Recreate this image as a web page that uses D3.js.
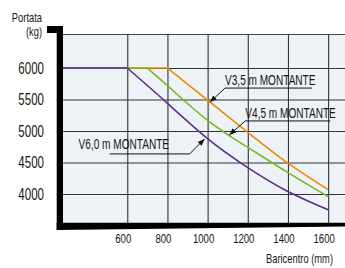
<!DOCTYPE html>
<html>
<head>
<meta charset="utf-8">
<script src="https://cdn.jsdelivr.net/npm/d3@7"></script>
<style>
  body { margin: 0; background: #fff; }
  text { font-family: "Liberation Sans", Arial, sans-serif; fill: #161616; }
</style>
</head>
<body>
<div id="chart"></div>
<script>
var width = 345, height = 268;

// data
var xTicks = [600, 800, 1000, 1200, 1400, 1600]
var yTicks = [4000, 4500, 5000, 5500, 6000]

var xs35 = [280, 800, 1000, 1200, 1400, 1600]
var v35  = [6000, 6000, 5490, 4980, 4490, 4070]

var xs45 = [280, 700, 800, 1000, 1200, 1400, 1600]
var v45  = [6000, 6000, 5720, 5170, 4740, 4340, 3960]

var xs60 = [280, 600, 800, 1000, 1200, 1400, 1600]
var v60  = [6000, 6000, 5440, 4880, 4420, 4040, 3750]

var series = [
    {name: "V3,5 m MONTANTE", xs: xs35, ys: v35, color: "#f28a00", at: 1012},
    {name: "V4,5 m MONTANTE", xs: xs45, ys: v45, color: "#7db71f", at: 1108},
    {name: "V6,0 m MONTANTE", xs: xs60, ys: v60, color: "#5a2e8f", at: 985}
]

var pLeft = 63, pRight = 345, pTop = 34, pBottom = 223;
var squeeze = 0.72;

var svg = d3.select("#chart").append("svg")
    .attr("width", width)
    .attr("height", height)

var xScale = d3.scaleLinear().domain([280, 1684]).range([pLeft, pRight]),
    yScale = d3.scaleLinear().domain([3540, 6540]).range([pBottom, pTop]);

// condensed text: scale horizontally around its anchor point
function label(x, y, str, size, anchor){
    return svg.append("text")
        .attr("transform", "translate(" + x + "," + y + ") scale(" + squeeze + ",1)")
        .attr("text-anchor", anchor || "start")
        .style("font-size", size + "px")
        .text(str)
}

// plot background
svg.append("rect")
    .attr("x", pLeft).attr("y", pTop)
    .attr("width", pRight - pLeft).attr("height", pBottom - pTop)
    .attr("fill", "#edf2f7")

svg.append("line")
    .attr("x1", pLeft).attr("x2", pRight)
    .attr("y1", pTop + 0.5).attr("y2", pTop + 0.5)
    .attr("stroke", "#444")

// gridlines
svg.append("g")
    .attr("class", "grid")
    .attr("transform", "translate(0," + pBottom + ")")
    .call(d3.axisBottom(xScale).tickValues(xTicks).tickSize(-(pBottom - pTop)).tickFormat(""))
svg.append("g")
    .attr("class", "grid")
    .attr("transform", "translate(" + pLeft + ",0)")
    .call(d3.axisLeft(yScale).tickValues(yTicks).tickSize(-(pRight - pLeft)).tickFormat(""))
svg.selectAll(".grid .domain").remove()
svg.selectAll(".grid line").attr("stroke", "#333").attr("stroke-width", 1.1)

// curves: flat part straight, falling part smooth
var flat = d3.line()
    .x(d => xScale(d[0]))
    .y(d => yScale(d[1]))
var fall = d3.line()
    .x(d => xScale(d[0]))
    .y(d => yScale(d[1]))
    .curve(d3.curveNatural)

series.forEach(function(s){
    var pts = s.xs.map((x, i) => [x, s.ys[i]])
    svg.append("path")
        .attr("d", flat(pts.slice(0, 2)) + fall(pts.slice(1)))
        .attr("fill", "none")
        .attr("stroke", s.color)
        .attr("stroke-width", 1.6)
})

// black axis bars
svg.append("path")
    .attr("d", "M47,26H63V230H56.7V33H47Z")
    .attr("fill", "#000")
svg.append("path")
    .attr("d", "M56.7,222.7H345V226.5L56.7,230Z")
    .attr("fill", "#000")

// tick labels
yTicks.forEach(function(d){
    label(44, yScale(d) + 5.8, d, 16, "end")
})
xTicks.forEach(function(d){
    label(xScale(d) - 4, 242.5, d, 13.3, "middle")
})

label(42, 21.5, "Portata", 13, "end")
label(42, 35.5, "(kg)", 13, "end")
label(333, 263, "Baricentro (mm)", 13, "end")

// annotations
svg.append("defs").append("marker")
    .attr("id", "arr")
    .attr("viewBox", "0 0 10 10")
    .attr("refX", 10).attr("refY", 5)
    .attr("markerWidth", 7).attr("markerHeight", 7)
    .attr("markerUnits", "userSpaceOnUse")
    .attr("orient", "auto")
    .append("path")
    .attr("d", "M0,1L10,5L0,9Z")
    .attr("fill", "#111")

function valueAt(s, x){
    return d3.scaleLinear().domain(s.xs).range(s.ys)(x)
}

// label offsets from the arrow tip: elbow, underline end, text start
var offs = [
    {ex: 15, ey: -14, ux: 102, tx: 15, ty: -17},
    {ex: 16, ey: -14, ux: 101, tx: 16, ty: -17},
    {ex: -15, ey: 15, ux: -95, tx: -126, ty: 10}
]

series.forEach(function(s, i){
    var o = offs[i]
    var tx = xScale(s.at), ty = yScale(valueAt(s, s.at)) + (i == 2 ? 3 : 0)
    svg.append("path")
        .attr("d", "M" + (tx + o.ux) + "," + (ty + o.ey) + "H" + (tx + o.ex) + "L" + tx + "," + ty)
        .attr("fill", "none")
        .attr("stroke", "#111")
        .attr("stroke-width", 1)
        .attr("marker-end", "url(#arr)")
    label(tx + o.tx, ty + o.ty, s.name, 14)
})
</script>
</body>
</html>
